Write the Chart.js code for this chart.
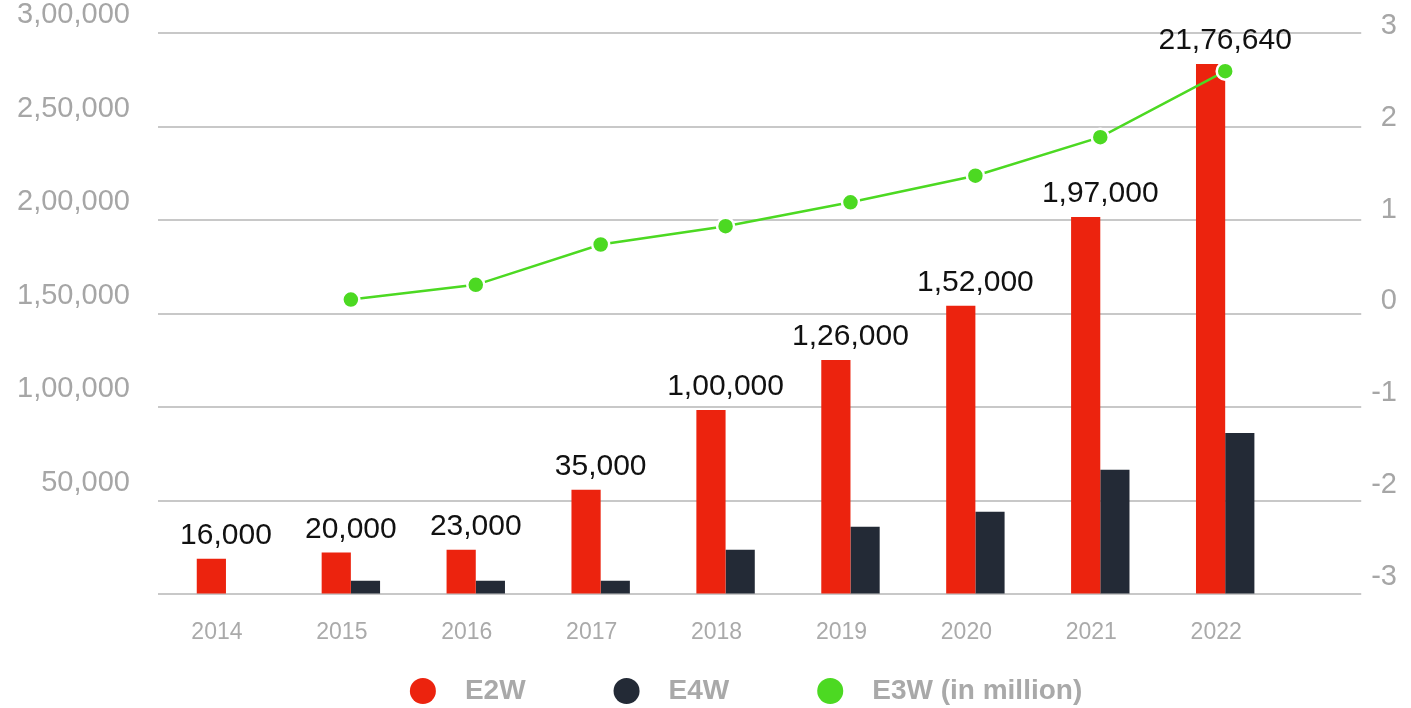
<!DOCTYPE html>
<html>
<head>
<meta charset="utf-8">
<script src="https://cdn.jsdelivr.net/npm/chart.js@4.4.1/dist/chart.umd.min.js"></script>
<style>
  html, body { margin: 0; padding: 0; background: #fff; }
  #wrap { width: 1411px; height: 708px; position: relative; }
</style>
</head>
<body>
<div id="wrap"><canvas id="grafico"></canvas></div>
<script>
// dados
const years = [2014, 2015, 2016, 2017, 2018, 2019, 2020, 2021, 2022];
const e2w = [19000, 22400, 23800, 55900, 98600, 125300, 154200, 201700, 283400];
const e4w = [null, 7300, 7300, 7300, 23800, 36100, 44100, 66600, 86300];
const e3w = [null, 0.02, 0.18, 0.62, 0.82, 1.08, 1.37, 1.79, 2.51];
const e2wLabels = ['16,000', '20,000', '23,000', '35,000', '1,00,000', '1,26,000', '1,52,000', '1,97,000', '21,76,640'];
const leftTickLabels = ['', '50,000', '1,00,000', '1,50,000', '2,00,000', '2,50,000', '3,00,000'];
const rightTicks = [-3, -2, -1, 0, 1, 2, 3];

const FONT = "'Liberation Sans', Arial, sans-serif";
Chart.defaults.font.family = FONT;

const cores = {
  e2w: '#ec230e',
  e4w: '#232a36',
  e3w: '#4cd922',
  grid: '#c8c8c8',
  eixo: '#a6a6a6'
};

// rótulos de valor acima das barras E2W
const rotulosBarras = {
  id: 'rotulosBarras',
  afterDatasetsDraw(chart) {
    const ctx = chart.ctx;
    const x = chart.scales.x;
    const meta = chart.getDatasetMeta(0);
    ctx.save();
    ctx.font = '30px ' + FONT;
    ctx.fillStyle = '#111';
    ctx.textAlign = 'center';
    ctx.textBaseline = 'middle';
    meta.data.forEach((bar, i) => {
      ctx.fillText(e2wLabels[i], x.getPixelForValue(years[i]), bar.y - 23);
    });
    ctx.restore();
  }
};

new Chart(document.getElementById('grafico'), {
  type: 'bar',
  data: {
    labels: years,
    datasets: [
      {
        label: 'E2W',
        data: e2w,
        backgroundColor: cores.e2w,
        borderWidth: 0,
        barPercentage: 1,
        categoryPercentage: 0.4676,
        yAxisID: 'y',
        order: 1
      },
      {
        label: 'E4W',
        data: e4w,
        backgroundColor: cores.e4w,
        borderWidth: 0,
        barPercentage: 1,
        categoryPercentage: 0.4676,
        yAxisID: 'y',
        order: 1
      },
      {
        type: 'line',
        label: 'E3W (in million)',
        data: e3w,
        borderColor: cores.e3w,
        backgroundColor: cores.e3w,
        borderWidth: 2.5,
        pointRadius: 8.5,
        pointBorderWidth: 2.5,
        pointBorderColor: '#ffffff',
        pointBackgroundColor: cores.e3w,
        tension: 0,
        yAxisID: 'y2',
        order: 0
      }
    ]
  },
  options: {
    responsive: true,
    maintainAspectRatio: false,
    animation: false,
    layout: { padding: { top: 33, left: 17, right: 14, bottom: -7 } },
    scales: {
      x: {
        type: 'linear',
        offset: false,
        min: 2013.455,
        max: 2023.089,
        afterBuildTicks: (axis) => { axis.ticks = years.map(v => ({ value: v })); },
        grid: { display: true, drawOnChartArea: false, drawTicks: true, tickLength: 24, tickColor: 'rgba(0,0,0,0)', offset: false },
        border: { display: false },
        ticks: {
          autoSkip: false,
          maxRotation: 0,
          padding: 0,
          labelOffset: -9,
          color: '#aaaaaa',
          font: { size: 23 },
          callback: (v) => String(v)
        }
      },
      y: {
        position: 'left',
        min: 0,
        max: 300000,
        grid: { color: cores.grid, lineWidth: 2, drawTicks: true, tickLength: 28, tickColor: 'rgba(0,0,0,0)' },
        border: { display: false },
        ticks: {
          stepSize: 50000,
          padding: 0,
          labelOffset: -18,
          color: cores.eixo,
          font: { size: 29 },
          callback: (v, i) => leftTickLabels[i]
        }
      },
      y2: {
        position: 'right',
        min: -3.195,
        max: 2.926,
        afterBuildTicks: (axis) => { axis.ticks = rightTicks.map(v => ({ value: v })); },
        grid: { display: false, drawTicks: false },
        border: { display: false },
        ticks: {
          autoSkip: false,
          crossAlign: 'far',
          padding: 5,
          color: cores.eixo,
          font: { size: 29 },
          callback: (v) => String(v)
        }
      }
    },
    plugins: {
      legend: {
        position: 'bottom',
        fullSize: false,
        labels: {
          usePointStyle: true,
          boxWidth: 28,
          boxHeight: 18.4,
          padding: 31,
          color: '#a9a9a9',
          font: { size: 28, weight: 'bold' },
          sort: (a, b) => a.datasetIndex - b.datasetIndex,
          generateLabels: (chart) => {
            const itens = Chart.defaults.plugins.legend.labels.generateLabels(chart);
            itens.forEach(it => {
              const ds = chart.data.datasets[it.datasetIndex];
              const ultimo = it.datasetIndex === chart.data.datasets.length - 1;
              it.text = '\u2002' + it.text + (ultimo ? '\u2003' : '\u2003\u2003');
              it.pointStyle = 'circle';
              it.fillStyle = ds.type === 'line' ? ds.pointBackgroundColor : ds.backgroundColor;
              it.strokeStyle = 'rgba(0,0,0,0)';
              it.lineWidth = 0;
            });
            return itens;
          }
        }
      },
      tooltip: { enabled: false }
    }
  },
  plugins: [rotulosBarras]
});
</script>
</body>
</html>
